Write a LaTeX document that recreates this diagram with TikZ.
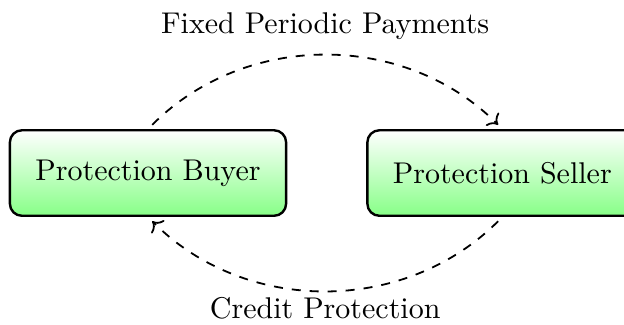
\documentclass[tikz,border=0pt]{standalone}
\usetikzlibrary{arrows.meta, positioning}
\definecolor{mygreen}{RGB}{135,255,135}

\begin{document}
\begin{tikzpicture}[
    party/.style={draw, thick, rounded corners=4pt, top color=white, bottom color=mygreen, minimum height=28.5pt, inner xsep=8.5pt},
    flow/.style={->, dashed, semithick, shorten <=2pt, shorten >=2pt},
    tag/.style={inner sep=2pt}
]
    % Fix the margins
    \useasboundingbox (-49.33pt,-50.33pt) rectangle (158.67pt,57.67pt);

    % The two parties
    \node[party] (buyer) at (0,0) {Protection Buyer};
    \node[party, right=26.3pt of buyer] (seller) {Protection Seller};

    % Payments one way, protection the other
    \draw[flow] (buyer.north) to[bend left=45] node[tag, above=3pt] (fee) {Fixed Periodic Payments} (seller.north);
    \draw[flow] (seller.south) to[bend left=45] node[tag, below] (prot) {Credit Protection} (buyer.south);
\end{tikzpicture}
\end{document}
